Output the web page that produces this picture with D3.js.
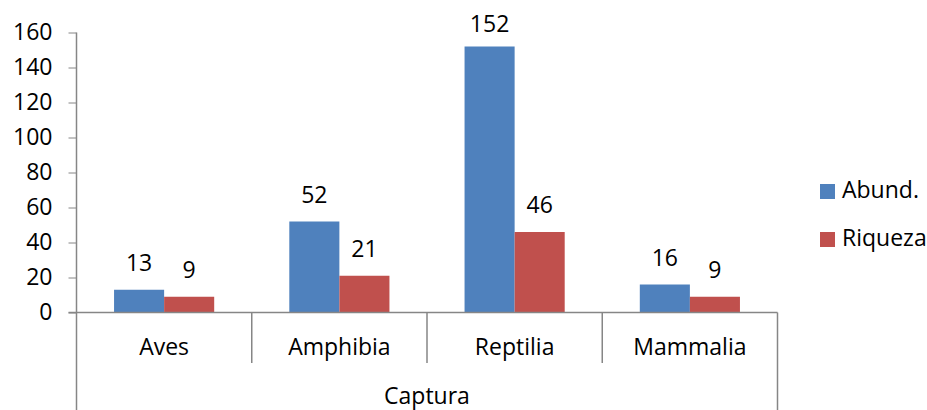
<!DOCTYPE html>
<html>
<head>
<meta charset="utf-8">
<script src="https://cdn.jsdelivr.net/npm/d3@7"></script>
<style>
  body { margin: 0; background: #fff; }
  text { font-family: "Open Sans", sans-serif; fill: #000; }
</style>
</head>
<body>
<div id="chart"></div>
<script>
const width = 927;
const height = 410;

const categories = ["Aves", "Amphibia", "Reptilia", "Mammalia"];
const seriesNames = ["Abund.", "Riqueza"];
const abund = [13, 52, 152, 16];
const riqueza = [9, 21, 46, 9];
const yTicks = [0, 20, 40, 60, 80, 100, 120, 140, 160];
const groupLabel = "Captura";

const colors = ["#4F81BD", "#C0504D"];
const AXIS = "#868686";
const FONT = 23;

const left = 76.5, right = 777.5, zeroY = 312.5, topY = 32.5;

const svg = d3.select("#chart")
  .append("svg")
  .attr("width", width)
  .attr("height", height);

const x = d3.scaleBand()
  .domain(categories)
  .range([left, right])
  .paddingInner(0)
  .paddingOuter(0);

const xs = d3.scaleBand()
  .domain(seriesNames)
  .range([0, x.bandwidth()])
  .paddingInner(0)
  .paddingOuter(0.75);

const y = d3.scaleLinear()
  .domain([0, 160])
  .range([zeroY, topY]);

// y axis
const yAxis = svg.append("g")
  .attr("transform", `translate(${left},0)`)
  .call(d3.axisLeft(y).tickValues(yTicks).tickSize(8).tickPadding(16).tickSizeOuter(0));
yAxis.select(".domain").remove();
yAxis.selectAll("line").attr("stroke", AXIS);
yAxis.selectAll("text")
  .style("font-size", FONT + "px")
  .style("font-family", "'Open Sans', sans-serif")
  .attr("fill", "#000");

// vertical axis line, extends down to the group label
svg.append("line")
  .attr("x1", left).attr("x2", left)
  .attr("y1", topY).attr("y2", height)
  .attr("stroke", AXIS).attr("stroke-width", 1.5);
svg.append("line")
  .attr("x1", right).attr("x2", right)
  .attr("y1", zeroY).attr("y2", height)
  .attr("stroke", AXIS).attr("stroke-width", 1.5);

// bars
const data = categories.map((c, i) => ({ cat: c, values: [abund[i], riqueza[i]] }));

const groups = svg.selectAll(".group")
  .data(data)
  .enter()
  .append("g")
  .attr("transform", d => `translate(${x(d.cat)},0)`);

groups.selectAll("rect")
  .data(d => d.values.map((v, j) => ({ v, s: seriesNames[j], j })))
  .enter()
  .append("rect")
  .attr("x", d => xs(d.s))
  .attr("width", xs.bandwidth())
  .attr("y", d => y(d.v))
  .attr("height", d => zeroY - y(d.v))
  .attr("fill", d => colors[d.j]);

groups.selectAll(".lbl")
  .data(d => d.values.map((v, j) => ({ v, s: seriesNames[j], j })))
  .enter()
  .append("text")
  .classed("lbl", true)
  .attr("x", d => xs(d.s) + xs.bandwidth() / 2)
  .attr("y", d => Math.max(y(d.v) - 19, 32))
  .attr("text-anchor", "middle")
  .style("font-size", FONT + "px")
  .text(d => d.v);

// x axis baseline
svg.append("line")
  .attr("x1", left - 8).attr("x2", right)
  .attr("y1", zeroY).attr("y2", zeroY)
  .attr("stroke", AXIS).attr("stroke-width", 1.5);

// category separators
svg.selectAll(".sep")
  .data(categories.slice(1))
  .enter()
  .append("line")
  .attr("x1", d => x(d)).attr("x2", d => x(d))
  .attr("y1", zeroY).attr("y2", 363)
  .attr("stroke", AXIS).attr("stroke-width", 1.5);

svg.selectAll(".cat")
  .data(categories)
  .enter()
  .append("text")
  .attr("x", d => x(d) + x.bandwidth() / 2)
  .attr("y", 355)
  .attr("text-anchor", "middle")
  .style("font-size", FONT + "px")
  .text(d => d);

svg.append("text")
  .attr("x", (left + right) / 2)
  .attr("y", 404)
  .attr("text-anchor", "middle")
  .style("font-size", FONT + "px")
  .text(groupLabel);

// legend
const legend = svg.selectAll(".legend")
  .data(seriesNames)
  .enter()
  .append("g")
  .attr("transform", (d, i) => `translate(820,${184 + i * 48})`);

legend.append("rect")
  .attr("width", 15).attr("height", 15)
  .attr("fill", (d, i) => colors[i]);

legend.append("text")
  .attr("x", 22)
  .attr("y", 14)
  .style("font-size", FONT + "px")
  .text(d => d);
</script>
</body>
</html>
